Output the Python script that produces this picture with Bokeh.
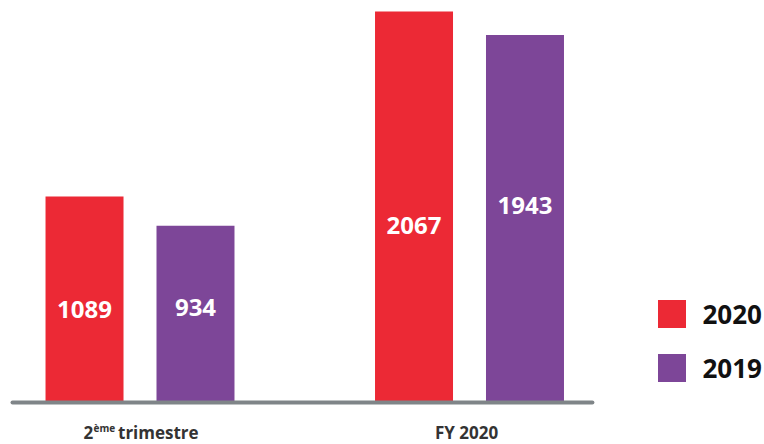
from bokeh.plotting import figure
from bokeh.models import (ColumnDataSource, Range1d, Legend, LegendItem, Label)
from bokeh.transform import dodge
from bokeh.core.properties import value
from bokeh.embed import file_html
from bokeh.resources import INLINE

# ---- data ----
categories = ["2ème trimestre", "FY 2020"]
values_2020 = [1089, 2067]
values_2019 = [934, 1943]
series_labels = ["2020", "2019"]

RED = "#ec2935"
PURPLE = "#7d4698"
FONT = "Open Sans"

idx = list(range(len(categories)))
src = ColumnDataSource(dict(
    x=idx,
    v2020=values_2020,
    v2019=values_2019,
    t2020=[str(v) for v in values_2020],
    t2019=[str(v) for v in values_2019],
    y2020=[v * 0.453 for v in values_2020],
    y2019=[v * 0.537 for v in values_2019],
))

p = figure(width=764, height=444, output_backend="svg", toolbar_location=None,
           x_axis_location=None, y_axis_location=None, min_border=0,
           x_range=Range1d(-0.4234, 1.8953), y_range=Range1d(-222, 2125))
p.outline_line_color = None
p.grid.visible = False
p.background_fill_color = "white"
p.border_fill_color = "white"

off = 0.1684
bw = 0.2367
r20 = p.vbar(x=dodge("x", -off, range=p.x_range), top="v2020", bottom=0, width=bw,
             source=src, fill_color=RED, line_color=None)
r19 = p.vbar(x=dodge("x", off, range=p.x_range), top="v2019", bottom=0, width=bw,
             source=src, fill_color=PURPLE, line_color=None)

# baseline
p.segment(x0=[idx[0] - 0.387], x1=[idx[-1] + 0.373], y0=[0], y1=[0],
          line_color="#7f8588", line_width=4, line_cap="round")

# value labels
for col, ycol, o in (("t2020", "y2020", -off), ("t2019", "y2019", off)):
    p.text(x=dodge("x", o, range=p.x_range), y=ycol, text=col, source=src,
           text_color="white", text_font=value(FONT), text_font_style="bold",
           text_font_size="24px", text_align="center", text_baseline="middle")

# category labels (with superscript)
lab_style = dict(text_color="#333333", text_font=FONT, text_font_style="bold",
                 x_units="data", y_units="data")
p.add_layout(Label(x=idx[0], y=-160, x_offset=-56.5, text="2", text_font_size="17px",
                   text_align="left", text_baseline="middle", **lab_style))
p.add_layout(Label(x=idx[0], y=-136, x_offset=-46.5, text="ème", text_font_size="10px",
                   text_align="left", text_baseline="middle", **lab_style))
p.add_layout(Label(x=idx[0], y=-160, x_offset=-22, text="trimestre", text_font_size="17px",
                   text_align="left", text_baseline="middle", **lab_style))
p.add_layout(Label(x=idx[1], y=-160, x_offset=-3, text=categories[1], text_font_size="17px",
                   text_align="center", text_baseline="middle", **lab_style))

legend = Legend(items=[LegendItem(label=series_labels[0], renderers=[r20]),
                       LegendItem(label=series_labels[1], renderers=[r19])],
                location=(653.5, 58.5), orientation="vertical",
                glyph_width=35, glyph_height=35, spacing=18, label_standoff=14,
                padding=0, margin=0, border_line_color=None,
                background_fill_alpha=0, label_text_font=FONT,
                label_text_font_style="bold", label_text_font_size="26px",
                label_text_color="#111111")
p.add_layout(legend)

open("out.html", "w").write(file_html(p, INLINE))
